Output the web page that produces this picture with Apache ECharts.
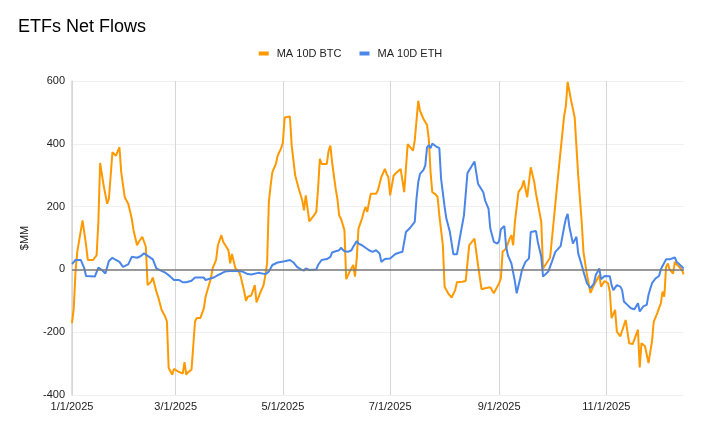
<!DOCTYPE html>
<html>
<head>
<meta charset="utf-8">
<script src="https://cdn.jsdelivr.net/npm/echarts@6/dist/echarts.min.js"></script>
<style>html,body{margin:0;padding:0;background:#fff}#c{width:701px;height:426px}</style>
</head>
<body>
<div id="c"></div>
<script>
// Day offsets from 1/1/2025 and values ($MM)
const btcDays = [0,1,2,3,6,8,9,12,14,15,16,18,20,21,23,25,26,27,28,29,30,32,34,35,37,38,40,42,43,45,46,48,49,51,53,54,55,57,58,60,63,64,65,66,68,70,71,73,75,76,77,79,80,82,83,85,86,89,90,91,93,95,96,98,99,100,102,104,105,107,109,110,111,112,113,114,116,117,119,120,121,124,125,127,128,129,131,132,133,135,137,139,140,141,142,145,146,147,148,150,151,152,153,155,156,158,160,161,162,163,165,166,167,168,169,170,173,174,176,178,179,180,181,182,183,185,187,189,191,194,195,197,198,200,202,203,204,205,207,208,209,211,212,214,216,218,219,222,224,226,229,231,233,235,238,240,243,244,245,247,249,250,251,252,254,256,257,258,259,261,263,264,265,267,268,269,272,274,276,278,280,281,282,284,286,288,290,291,293,295,297,299,300,301,303,305,306,307,308,309,310,312,313,315,317,319,320,322,323,324,326,327,328,330,331,333,335,336,337,338,339,340,342,343,344,346,347,348];
const btcValues = [-171,-124,-7,56,156,77,30,30,45,151,339,267,209,225,373,362,357,389,310,304,230,209,162,125,77,88,104,72,-50,-39,-26,-71,-87,-129,-150,-166,-314,-335,-317,-324,-332,-295,-335,-328,-319,-166,-155,-155,-124,-87,-87,-29,3,30,77,109,88,61,19,49,3,-7,-23,-71,-100,-87,-83,-50,-105,-76,-50,-18,19,214,267,310,336,362,386,405,484,487,394,299,278,257,220,188,236,153,167,183,257,352,336,336,378,394,341,257,225,172,162,125,-31,-7,14,-23,35,130,162,183,199,183,214,241,241,251,294,320,304,294,236,238,299,310,320,246,399,378,410,537,505,479,460,415,310,246,238,230,172,77,-55,-76,-90,-66,-41,-39,-37,77,98,14,-63,-60,-57,-76,-44,-29,56,67,98,109,77,151,246,262,283,278,230,325,278,241,236,151,3,8,37,151,267,378,489,521,597,537,484,299,151,56,-18,-75,-50,-30,-18,-55,-37,-44,-71,-155,-155,-129,-198,-213,-219,-161,-235,-238,-240,-192,-312,-235,-245,-250,-298,-229,-166,-139,-108,-71,-87,8,19,0,-13,24,16,5,-2,-16];
const ethDays = [0,2,5,7,8,13,14,15,17,19,21,23,25,27,29,32,33,34,37,39,41,42,46,48,53,56,58,61,63,65,68,70,75,76,77,81,83,85,87,90,93,97,100,102,106,110,112,114,117,121,124,126,128,130,132,133,135,139,140,142,145,147,148,150,152,153,155,157,159,160,162,163,165,167,169,171,173,175,176,178,181,182,184,186,188,189,190,192,195,196,197,198,200,201,202,203,204,205,207,209,210,212,213,215,217,219,221,223,225,227,229,231,232,234,235,237,238,240,242,243,244,246,247,248,250,252,253,255,256,258,260,261,264,265,267,268,271,273,275,278,280,281,282,283,285,287,288,290,291,293,295,297,298,300,301,303,306,307,308,310,312,313,314,316,318,320,321,322,323,325,327,328,330,332,334,335,336,337,338,340,341,343,344,346,348];
const ethValues = [17,30,30,3,-21,-23,-18,6,-2,-13,27,37,30,24,8,16,19,40,37,42,51,45,32,3,-10,-23,-34,-34,-41,-41,-36,-26,-26,-34,-29,-25,-18,-13,-7,-5,-5,-7,-15,-16,-11,-15,-7,14,22,26,30,22,8,1,-4,3,-2,0,14,30,33,40,54,58,61,69,58,56,61,72,90,82,77,69,61,56,61,51,24,33,35,35,49,53,56,51,119,130,151,225,278,304,317,331,389,396,386,401,392,386,288,199,162,119,48,48,111,172,307,325,344,273,276,246,220,193,130,88,82,90,128,138,72,45,19,-39,-76,-29,-2,24,35,119,122,88,40,-23,-7,24,56,74,135,162,177,135,82,104,51,14,-7,-44,-60,-44,-18,3,-31,-21,-22,-50,-66,-50,-55,-66,-102,-113,-124,-127,-129,-108,-134,-118,-113,-81,-44,-29,-21,0,11,8,32,32,30,38,24,14,3];
const yTicks = [-400,-200,0,200,400,600];
// label positions: 1/1, 3/1, 5/1, 7/1, 9/1, 11/1 as day offsets in 2025
const xLabelDays = [0,59,120,181,243,304];
const seriesNames = ['MA 10D BTC','MA 10D ETH'];

const DAY = 86400000;
const T0 = Date.UTC(2025,0,1);
const fmt = v => {const d=new Date(T0 + Math.round(v)*DAY);return (d.getUTCMonth()+1)+'/'+d.getUTCDate()+'/'+d.getUTCFullYear();};
const btc = btcDays.map((d,i)=>[d, btcValues[i]]);
const eth = ethDays.map((d,i)=>[d, ethValues[i]]);
const FONT = 'Liberation Sans, Arial, sans-serif';

const chart = echarts.init(document.getElementById('c'), null, {renderer:'canvas'});
chart.setOption({
  animation:false,
  backgroundColor:'#fff',
  textStyle:{fontFamily:FONT},
  title:{text:'ETFs Net Flows',left:13,top:13,textStyle:{fontSize:18,fontWeight:'normal',color:'#000',fontFamily:FONT}},
  legend:{top:43,left:'center',itemWidth:10,itemHeight:4,itemGap:18,icon:'rect',
    textStyle:{fontSize:11,color:'#222',fontFamily:FONT,padding:[0,0,0,3]},data:seriesNames},
  grid:{left:72,right:17,top:81,bottom:31,containLabel:false},
  xAxis:{type:'value',min:0,max:348.2,
    axisLine:{show:false},
    axisTick:{show:false,customValues:xLabelDays},
    axisLabel:{customValues:xLabelDays,formatter:fmt,fontSize:11,color:'#222',margin:6,fontFamily:FONT},
    splitLine:{show:true,lineStyle:{color:'#d6d6d6',width:1}}
  },
  yAxis:{type:'value',min:yTicks[0],max:yTicks[yTicks.length-1],interval:200,
    name:'$MM',nameLocation:'middle',nameGap:42,nameRotate:90,
    nameTextStyle:{fontSize:11,color:'#222',fontFamily:FONT},
    axisLine:{show:true,lineStyle:{color:'#d6d6d6',width:1.5}},axisTick:{show:false},
    axisLabel:{fontSize:11,color:'#222',margin:7,fontFamily:FONT},
    splitLine:{show:true,lineStyle:{color:'#f0f0f0',width:1}}
  },
  series:[
    {type:'line',name:'__zero',data:[],z:1,silent:true,
      markLine:{silent:true,symbol:'none',label:{show:false},animation:false,
        lineStyle:{color:'#7a7a7a',width:1.5,type:'solid'},data:[{yAxis:0}]}},
    {type:'line',name:seriesNames[0],data:btc,showSymbol:false,symbol:'none',z:3,
      lineStyle:{color:'#ff9900',width:2},itemStyle:{color:'#ff9900'}},
    {type:'line',name:seriesNames[1],data:eth,showSymbol:false,symbol:'none',z:4,
      lineStyle:{color:'#4a86e8',width:2},itemStyle:{color:'#4a86e8'}}
  ]
});
</script>
</body>
</html>
